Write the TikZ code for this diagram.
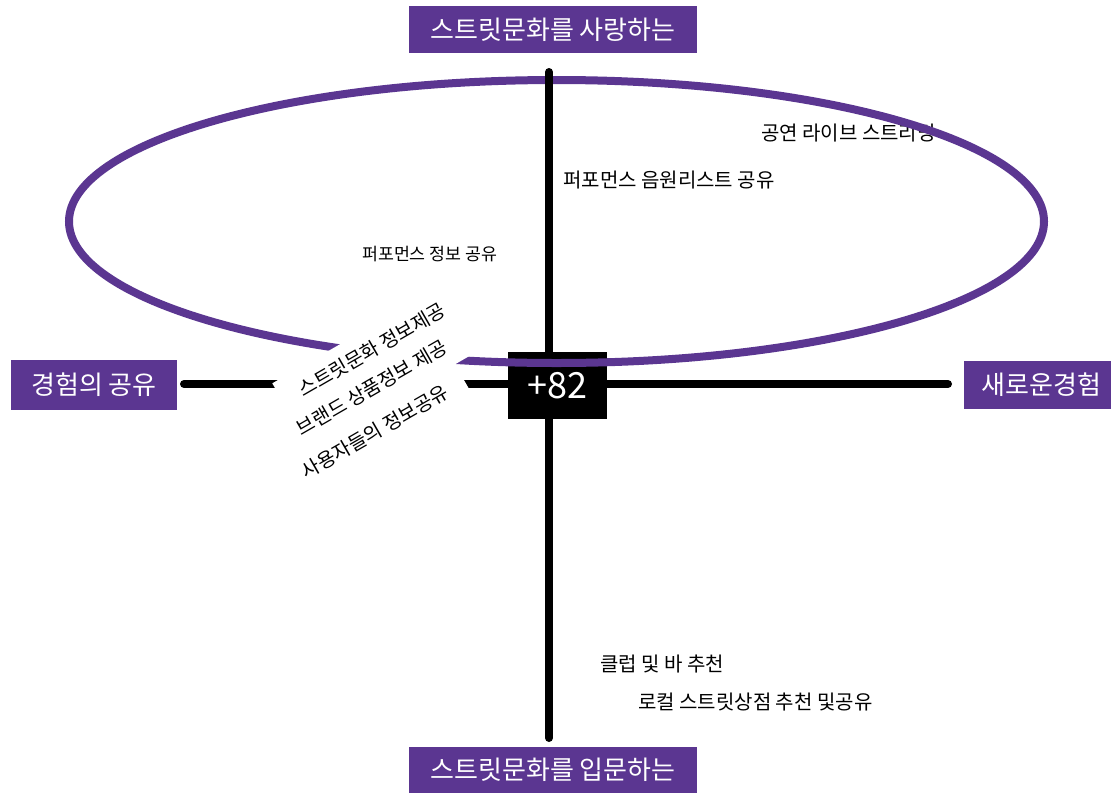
\documentclass[tikz,border=0pt]{standalone}
\usepackage{fontspec}
\setmainfont{Noto Sans CJK KR}
\definecolor{streetpurple}{RGB}{91,54,145}
\begin{document}
\begin{tikzpicture}[x=1pt,y=-1pt]
    \tikzstyle{label}=[fill=streetpurple,text=white,inner sep=0pt,font=\fontsize{26}{30}\selectfont]
    \tikzstyle{axis}=[draw=black,line width=8pt,line cap=round]
    \tikzstyle{ring}=[draw=streetpurple,line width=8pt]
    \tikzstyle{note}=[anchor=west,inner sep=0pt,font=\fontsize{20}{24}\selectfont]
    \tikzstyle{info}=[fill=white,rotate=30,inner sep=0pt,minimum width=206pt,minimum height=42pt,font=\fontsize{19.5}{24}\selectfont]
    \useasboundingbox (0,0) rectangle (1111,793);
    \begin{scope}
        \node [label,minimum width=288pt,minimum height=47pt] (love) at (553,29.5) {스트릿문화를 사랑하는};
        \node [label,minimum width=288pt,minimum height=46pt] (intro) at (553,770) {스트릿문화를 입문하는};
        \node [label,minimum width=166pt,minimum height=50pt] (share) at (94,385) {경험의 공유};
        \node [label,minimum width=147pt,minimum height=48pt] (newexp) at (1037.5,385) {\hspace{8pt}새로운경험};
        \coordinate (vtop) at (549,72);
        \coordinate (vbot) at (549,738);
        \coordinate (hleft) at (184,384);
        \coordinate (hright) at (948,384);
        \path[axis] (hleft) -- (hright);
        \path[axis] (vbot) -- (vtop |- hleft);
        \node [fill=black,text=white,minimum width=99pt,minimum height=67pt,inner sep=0pt,font=\fontsize{36}{40}\selectfont] (code) at (557.5,385.5) {+82};
        \node [note] (live) at (761,133) {공연 라이브 스트리밍};
        \draw [ring] (556.5,221.5) ellipse [x radius=487.5pt,y radius=141.5pt];
        \path[axis] (vtop) -- (vtop |- code.north);
        \node [note] (playlist) at (563,180) {퍼포먼스 음원리스트 공유};
        \node [note,font=\fontsize{17.3}{20}\selectfont] (perf) at (362,254) {퍼포먼스 정보 공유};
        \node [note] (club) at (600,664) {클럽 및 바 추천};
        \node [note] (local) at (638,702) {로컬 스트릿상점 추천 및공유};
        \node [info] (street) at (372,350) {스트릿문화 정보제공};
        \node [info] (brand) at (372,388) {브랜드 상품정보 제공};
        \node [info] (users) at (375,432) {사용자들의 정보공유};
    \end{scope}
\end{tikzpicture}
\end{document}
